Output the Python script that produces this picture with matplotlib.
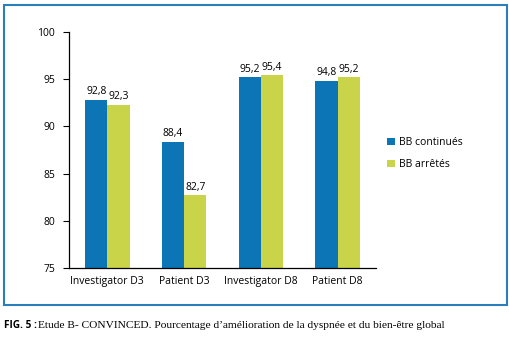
import matplotlib
matplotlib.use("Agg")
import matplotlib.pyplot as plt
from matplotlib.patches import Rectangle
import numpy as np

categories = ["Investigator D3", "Patient D3", "Investigator D8", "Patient D8"]
series_names = ["BB continués", "BB arrêtés"]
continued = [92.8, 88.4, 95.2, 94.8]
stopped = [92.3, 82.7, 95.4, 95.2]
yticks = [75, 80, 85, 90, 95, 100]

blue = "#0b75b6"
green = "#c9d449"

fig = plt.figure(figsize=(5.09, 3.44), dpi=100)
ax = fig.add_axes([69/509, 1-268/344, (376-69)/509, (268-32)/344])

x = np.arange(len(categories))
w = 0.29
b1 = ax.bar(x - w/2, continued, w, color=blue, label=series_names[0])
b2 = ax.bar(x + w/2, stopped, w, color=green, label=series_names[1])

def fmt(v):
    return f"{v:.1f}".replace(".", ",")

for bars, vals in ((b1, continued), (b2, stopped)):
    for r, v in zip(bars, vals):
        ax.annotate(fmt(v), (r.get_x() + r.get_width()/2, v), xytext=(0, 2),
                    textcoords="offset points", ha="center", va="bottom",
                    fontsize=7.5, family="Open Sans")

ax.set_ylim(75, 100)
ax.set_xlim(-0.5, 3.5)
ax.set_yticks(yticks)
ax.set_yticklabels([str(t) for t in yticks], fontsize=7.5, family="Open Sans")
ax.set_xticks(x)
ax.set_xticklabels(categories, fontsize=7.5, family="Open Sans")
ax.tick_params(axis="x", length=0, pad=6)
ax.tick_params(axis="y", length=4, width=0.8, pad=6)
for s in ("top", "right"):
    ax.spines[s].set_visible(False)
for s in ("left", "bottom"):
    ax.spines[s].set_linewidth(0.9)

leg = fig.legend(handles=[b1, b2], labels=series_names, loc="upper left",
                 bbox_to_anchor=(378/509, 1-128/344), frameon=False,
                 prop={"family": "Open Sans", "size": 7.5}, handlelength=0.7, handleheight=0.7,
                 handletextpad=0.4, labelspacing=1.0)

fig.patches.append(Rectangle((4/509, 1-305/344), (507-4)/509, (305-5)/344,
                             transform=fig.transFigure, fill=False,
                             edgecolor="#2a7fbb", linewidth=1.5))

fig.text(4/509, 1-325/344, "FIG. 5 :", fontsize=7.2, fontweight="bold",
         family="Open Sans", va="center", ha="left")
fig.text(38/509, 1-325/344, "Etude B- CONVINCED. Pourcentage d’amélioration de la dyspnée et du bien-être global",
         fontsize=8.2, family="Liberation Serif", va="center", ha="left")

fig.savefig("out.png", dpi=100)
